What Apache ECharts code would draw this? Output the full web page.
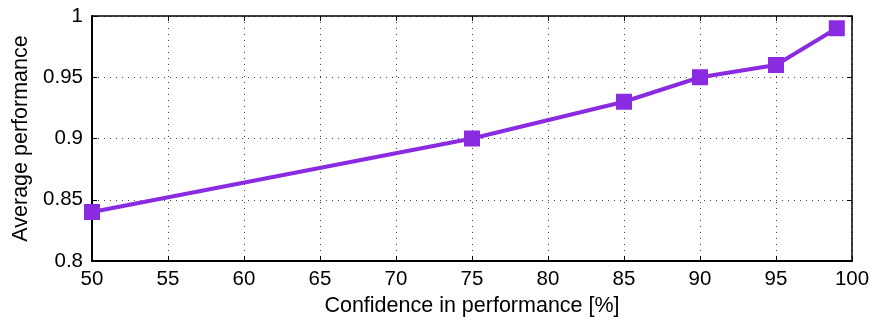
<!DOCTYPE html>
<html>
<head>
<meta charset="utf-8">
<script src="https://cdn.jsdelivr.net/npm/echarts@6/dist/echarts.min.js"></script>
<style>
html, body { margin: 0; padding: 0; background: #fff; }
#main { width: 876px; height: 324px; }
</style>
</head>
<body>
<div id="main"></div>
<script>
var confidence = [50, 75, 85, 90, 95, 99];
var performance = [0.84, 0.90, 0.93, 0.95, 0.96, 0.99];

var myChart = echarts.init(document.getElementById('main'));

var font = 'Liberation Sans, Helvetica, Arial, sans-serif';
var lineBlack = { color: '#000', width: 2 };

var pts = confidence.map(function (c, i) { return [c, performance[i]]; });

option = {
    animation: false,
    grid: { left: 92, right: 24, top: 16, bottom: 63 },
    xAxis: [{
        type: 'value',
        min: 50, max: 100, interval: 5,
        name: 'Confidence in performance [%]',
        nameLocation: 'middle',
        nameGap: 33,
        nameTextStyle: { fontFamily: font, fontSize: 21.5, color: '#000' },
        axisLine: { lineStyle: lineBlack },
        axisTick: { inside: true, length: 5, lineStyle: { color: '#000' } },
        axisLabel: { fontFamily: font, fontSize: 20.5, color: '#000', margin: 8 },
        splitLine: { show: true, lineStyle: { type: [1, 5], color: '#444', width: 1 } }
    }, {
        type: 'value', position: 'top',
        min: 50, max: 100, interval: 5,
        axisLine: { show: true, lineStyle: { color: '#000', width: 1.5 } },
        axisTick: { inside: true, length: 5, lineStyle: { color: '#000' } },
        axisLabel: { show: false },
        splitLine: { show: false }
    }],
    yAxis: [{
        type: 'value',
        min: 0.8, max: 1, interval: 0.05,
        name: 'Average performance',
        nameLocation: 'middle',
        nameGap: 58,
        nameTextStyle: { fontFamily: font, fontSize: 21.5, color: '#000' },
        axisLine: { show: true, lineStyle: lineBlack },
        axisTick: { show: true, inside: true, length: 5, lineStyle: { color: '#000' } },
        axisLabel: {
            fontFamily: font, fontSize: 20.5, color: '#000', margin: 9,
            formatter: function (v) { return String(+v.toFixed(2)); }
        },
        splitLine: { show: true, lineStyle: { type: [1, 5], color: '#444', width: 1 } }
    }, {
        type: 'value', position: 'right',
        min: 0.8, max: 1, interval: 0.05,
        axisLine: { show: true, lineStyle: { color: '#000', width: 1.5 } },
        axisTick: { show: true, inside: true, length: 5, lineStyle: { color: '#000' } },
        axisLabel: { show: false },
        splitLine: { show: false }
    }],
    series: [{
        type: 'line',
        data: pts,
        symbol: 'rect',
        symbolSize: 16,
        itemStyle: { color: '#8a2be2' },
        lineStyle: { color: '#8a2be2', width: 4 }
    }]
};

myChart.setOption(option);
</script>
</body>
</html>
